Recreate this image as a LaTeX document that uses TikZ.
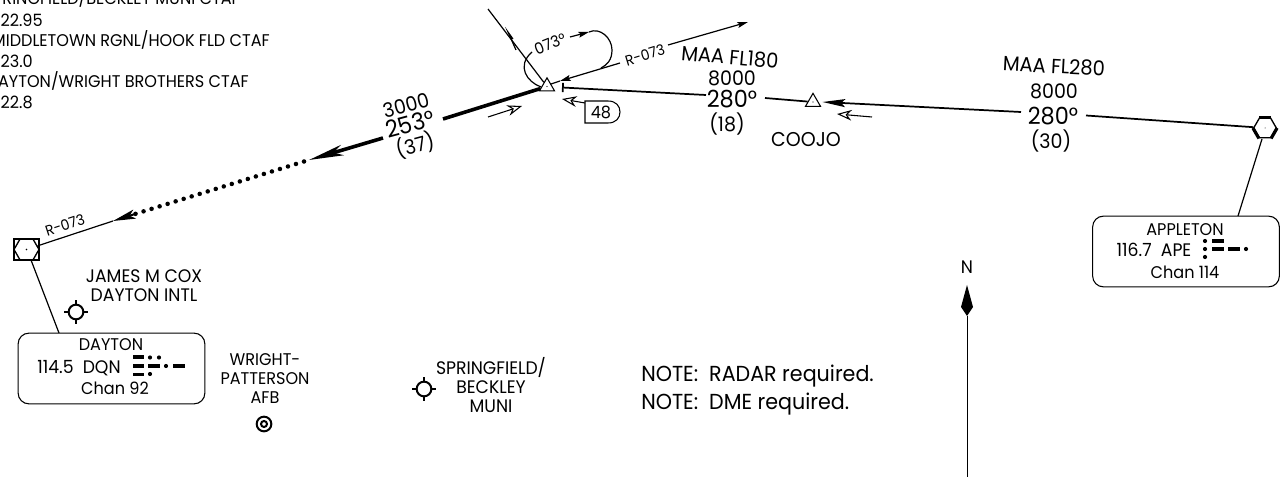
\documentclass[tikz,border=0pt]{standalone}
\usepackage{fontspec}
\setmainfont{Poppins}[FakeStretch=0.95]
\usetikzlibrary{arrows.meta,shapes.geometric}
\tikzset{
  lbl/.style={inner sep=0pt,font=\fontsize{12.7pt}{14pt}\selectfont},
  lblwide/.style={inner sep=0pt,font=\fontsize{13.6pt}{15pt}\selectfont},
  lblrad/.style={inner sep=0pt,font=\fontsize{11pt}{13pt}\selectfont},
  lblmid/.style={inner sep=0pt,font=\fontsize{15pt}{17pt}\selectfont},
  lblbig/.style={inner sep=0pt,font=\fontsize{17.7pt}{20pt}\selectfont},
  lblmaa/.style={inner sep=0pt,font=\fontsize{15.4pt}{17pt}\selectfont},
  lblnote/.style={inner sep=0pt,anchor=base west,font=\fontsize{16.3pt}{18pt}\selectfont},
  course/.style={line width=0.9pt},
  thickleg/.style={line width=2.7pt},
  fixtri/.style={draw,line width=0.8pt,regular polygon,regular polygon sides=3,minimum size=13pt,inner sep=0pt},
  vorhex/.style={draw,line width=1pt,regular polygon,regular polygon sides=6,inner sep=0pt},
  navbox/.style={draw,line width=0.8pt,rounded corners=8pt,minimum width=140pt,minimum height=53pt,inner sep=0pt},
  aptring/.style={draw,circle,line width=1.5pt,minimum size=11pt,inner sep=0pt},
  morsebar/.style={line width=2.5pt},
  openhead/.style={-{Stealth[open,length=11pt,width=8pt,inset=3.5pt]},line width=0.8pt},
  solidhead/.style={-{Stealth[length=8pt,width=4.5pt,inset=1.5pt]}}
}
\begin{document}
\begin{tikzpicture}[x=0.75pt,y=0.75pt,yscale=-1,xscale=1]
\useasboundingbox (0,0) rectangle (1285,477);
%Text: frequencies
\node[lbl,anchor=base east] (ctafA) at (240,5) {SPRINGFIELD/BECKLEY MUNI CTAF};
\node[lbl,anchor=base east] (freqA) at (43,27) {122.95};
\node[lbl,anchor=base east] (ctafB) at (270,47) {MIDDLETOWN RGNL/HOOK FLD CTAF};
\node[lbl,anchor=base east] (freqB) at (33,68) {123.0};
\node[lbl,anchor=base east] (ctafC) at (249,88) {DAYTON/WRIGHT BROTHERS CTAF};
\node[lbl,anchor=base east] (freqC) at (33,109) {122.8};
%Shape: Triangle
\node[fixtri] (midfix) at (547,86.5) {};
\fill (midfix.center) circle (0.7);
\node[fixtri] (coojofix) at (813,102) {};
\fill (coojofix.center) circle (0.7);
\node[lblmid] (coojolbl) at (806,140) {COOJO};
%Shape: Square with hexagon
\node[draw,line width=1pt,minimum width=18.75pt,minimum height=15.75pt,inner sep=0pt] (daytonsq) at (26.5,249.5) {};
\node[vorhex,minimum size=18.75pt] (daytonhex) at (26.5,249.5) {};
\fill (daytonhex.center) circle (0.9);
%Shape: Hexagon
\node[vorhex,minimum size=17pt] (appletonhex) at (1265,128) {};
\fill (appletonhex.center) circle (0.5);
\draw[line width=2.4pt] (appletonhex.corner 1) -- (appletonhex.corner 2);
\draw[line width=2.4pt] (appletonhex.corner 3) -- (appletonhex.corner 4);
\draw[line width=2.4pt] (appletonhex.corner 5) -- (appletonhex.corner 6);
%Boxes
\node[navbox] (daytonbox) at (111.5,368.5) {};
\node[lbl] (daytonname) at (111,345) {DAYTON};
\node[lblwide] (daytonfreq) at (79,368) {114.5\ \ DQN};
\node[lbl] (daytonchan) at (115,388) {Chan 92};
\node[navbox] (appletonbox) at (1186,251.5) {};
\node[lbl] (appletonname) at (1185,230) {APPLETON};
\node[lblwide] (appletonfreq) at (1154,250) {116.7\ \ APE};
\node[lbl] (appletonchan) at (1185,272) {Chan 114};
%Morse
\draw[morsebar] (133,357) -- (144,357) (133,366) -- (144,366) (133,374.5) -- (144,374.5) (148,366) -- (160,366) (173,366) -- (185,366);
\fill (150,357.5) circle (2.1) (159,357.5) circle (2.1) (150,374) circle (2.1) (166,366) circle (2.1);
\draw[morsebar] (1212,241) -- (1224,241) (1212,249) -- (1224,249) (1228,249) -- (1240,249);
\fill (1205,241) circle (2.1) (1205,249) circle (2.1) (1205,257) circle (2.1) (1246,249) circle (2.1);
%Ties
\coordinate (daytontie) at (59,333);
\coordinate (daytonsqtie) at (31,260);
\draw[course] (daytonsqtie) -- (daytontie);
\coordinate (appletontie) at (1238,216);
\coordinate (appletonhextie) at (1262,139);
\draw[course] (appletonhextie) -- (appletontie);
%Legs right
\coordinate (appletonleg) at (1086,115.5);
\draw[line width=1.3pt] (appletonhex) -- (appletonleg);
\coordinate (coojoleg) at (1021,112);
\coordinate (coojotip) at (822.5,102);
\draw[line width=1.3pt,-{Stealth[length=17pt,width=6pt,inset=3pt]}] (coojoleg) -- (coojotip);
\node[lblmaa,rotate=-3] (maaB) at (1054,66) {MAA FL280};
\node[lblmid] (altB) at (1054,91) {8000};
\node[lblbig] (crsB) at (1053,116) {280°};
\node[lblmid] (distB) at (1051,141) {(30)};
%Legs middle
\coordinate (midtick) at (562,87.5);
\coordinate (midleg) at (706,95);
\coordinate (coojoin) at (765,98);
\draw[line width=1.3pt,{Bar[width=7pt]}-] (midtick) -- (midleg);
\draw[line width=1.3pt] (coojoin) -- (coojofix);
\node[lblmaa,rotate=-5] (maaA) at (730,57) {MAA FL180};
\node[lblmid] (altA) at (732,78) {8000};
\node[lblbig] (crsA) at (732,99) {280°};
\node[lblmid] (distA) at (727,124) {(18)};
%Legs left
\coordinate (midout) at (443,119);
\coordinate (dotstart) at (383,138);
\coordinate (dottip) at (309,160);
\coordinate (dotend) at (135,214);
\coordinate (vortip) at (113,221);
\draw[thickleg] (midfix) -- (midout);
\draw[thickleg,-{Stealth[length=26pt,width=8pt,inset=7pt]}] (dotstart) -- (dottip);
\draw[line width=3.4pt,line cap=round,dash pattern=on 0pt off 6.3pt] (304,161.5) -- (dotend);
\draw[course] (daytonhex) -- (vortip);
\draw[line width=1.5pt,-{Stealth[length=17pt,width=7pt,inset=4pt]}] (dotend) -- (vortip);
\node[lblmid,rotate=15] (altC) at (406,105) {3000};
\node[lblbig,rotate=15] (crsC) at (410,124) {253°};
\node[lblmid,rotate=15] (distC) at (415,145) {(37)};
\node[lblrad,rotate=18] (radialA) at (65,225) {R-073};
%Radial upper
\coordinate (radialin) at (620,63);
\coordinate (radialtip) at (560,81);
\coordinate (radialout) at (668,45);
\coordinate (radialend) at (748,22);
\coordinate (radialroot) at (551,84);
\draw[course,solidhead] (radialin) -- (radialtip);
\draw[course] (radialtip) -- (radialroot);
\draw[course,solidhead] (radialout) -- (radialend);
\node[lblrad,rotate=17] (radialB) at (645,55) {R-073};
%Holding
\coordinate (holdlow) at (541,87);
\coordinate (holdtop) at (532,52);
\coordinate (holdarrow) at (570,37);
\coordinate (holdtip) at (589,32);
\coordinate (holdend) at (601,68);
\draw[course] (holdlow) .. controls (527,82) and (516,66) .. (holdtop);
\draw[course,solidhead] (holdarrow) -- (holdtip);
\draw[course] (holdtip) .. controls (600,27) and (612,38) .. (612,50) .. controls (612,60) and (607,65) .. (holdend);
\node[lblrad,rotate=22] (holdlbl) at (550,44) {\fontsize{11.8pt}{14pt}\selectfont 073°};
%Feeder
\coordinate (feedstart) at (488,9);
\draw[course] (feedstart) -- (midfix);
\draw[course] (513,39) -- (508,32) -- (516,50);
%Open arrows
\coordinate (oneA) at (488,117);
\coordinate (oneB) at (522,106);
\draw[openhead] (oneA) -- (oneB);
\coordinate (twoB) at (562,99);
\coordinate (twoA) at (585,103);
\draw[openhead] (twoA) -- (twoB);
\coordinate (threeA) at (872,117);
\coordinate (threeB) at (837,114);
\draw[openhead] (threeA) -- (threeB);
%Shape: mileage tag
\draw[line width=0.8pt] (585,101) -- (608,101) .. controls (616,101) and (620,106) .. (620,112) .. controls (620,118) and (616,123) .. (608,123) -- (585,123) -- cycle;
\node[lbl] (tag) at (601,112.5) {48};
%Airports
\node[lblwide] (coxA) at (144,276) {JAMES M COX};
\node[lblwide] (coxB) at (144,295) {DAYTON INTL};
\node[aptring] (coxapt) at (76,312) {};
\draw[line width=1pt] (coxapt.north) -- ++(0,-4) (coxapt.south) -- ++(0,4) (coxapt.east) -- ++(4,0) (coxapt.west) -- ++(-4,0);
\node[lbl] (wpA) at (265,360) {WRIGHT-};
\node[lbl] (wpB) at (265,379) {PATTERSON};
\node[lbl] (wpC) at (265,398) {AFB};
\node[aptring] (wpapt) at (264,424) {};
\node[draw,circle,line width=1.5pt,minimum size=4.5pt,inner sep=0pt] (wpaptin) at (264,424) {};
\node[lblwide] (sgA) at (491,368) {SPRINGFIELD/};
\node[lblwide] (sgB) at (491,387) {BECKLEY};
\node[lblwide] (sgC) at (491,406) {MUNI};
\node[aptring] (sgapt) at (424,389) {};
\draw[line width=1pt] (sgapt.north) -- ++(0,-4) (sgapt.south) -- ++(0,4) (sgapt.east) -- ++(4,0) (sgapt.west) -- ++(-4,0);
%Notes
\node[lblnote] (noteA) at (641,381) {NOTE:\ \ RADAR required.};
\node[lblnote] (noteB) at (641,409) {NOTE:\ \ DME required.};
%North
\node[lblwide] (northlbl) at (967,267) {N};
\coordinate (northtail) at (967,477);
\coordinate (northwide) at (967,316);
\draw[line width=0.6pt] (northtail) -- (northwide);
\fill (967,285) -- (973,307) -- (967,316) -- (961,307) -- cycle;
\end{tikzpicture}
\end{document}
